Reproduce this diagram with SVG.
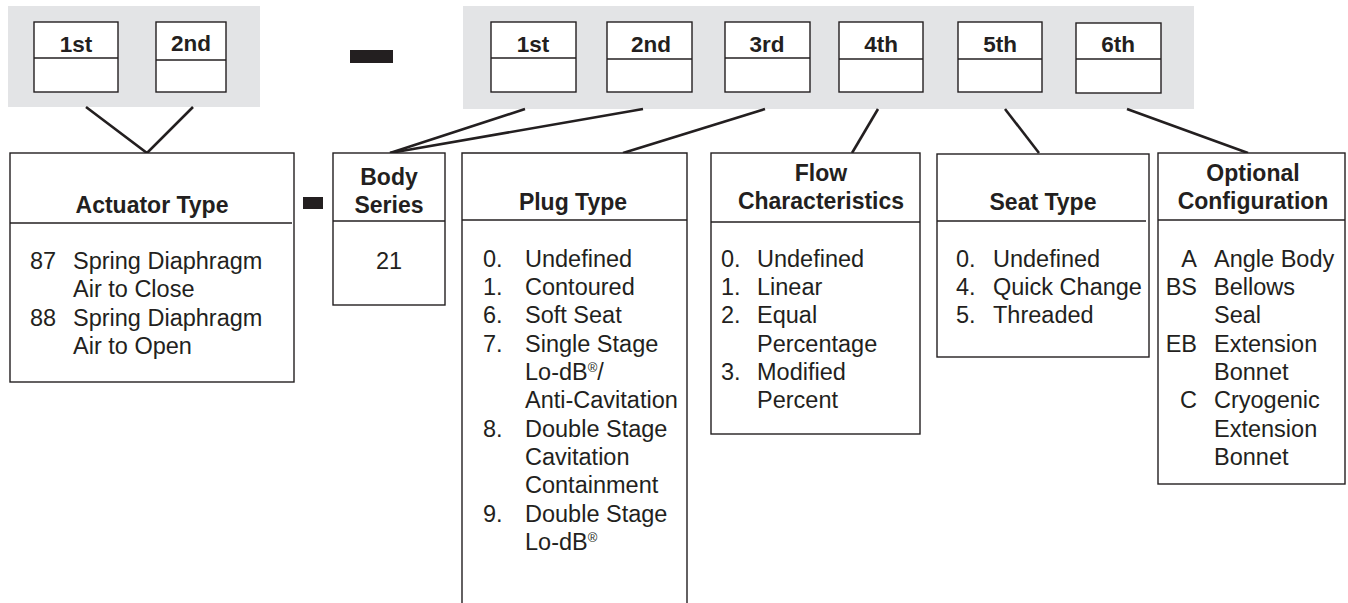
<svg xmlns="http://www.w3.org/2000/svg" width="1348" height="603" viewBox="0 0 1348 603">
  <style>
    .panel { fill: #e3e4e6; stroke: none; }
    .slot { fill: #ffffff; stroke: #231f20; stroke-width: 1.4; }
    .box { fill: #ffffff; stroke: #231f20; stroke-width: 1.4; }
    .rule { stroke: #231f20; stroke-width: 1.4; }
    .link { stroke: #231f20; stroke-width: 2.6; fill: none; stroke-linecap: butt; }
    .dash { fill: #231f20; }
    text { font-family: "Liberation Sans", Arial, sans-serif; fill: #231f20; }
    .slotlbl { font-size: 22.5px; font-weight: bold; text-anchor: middle; }
    .title { font-size: 23px; font-weight: bold; text-anchor: middle; }
    .item { font-size: 23.5px; }
    .code { font-size: 23.5px; text-anchor: end; }
    .reg { font-size: 13px; }
  </style>

  <!-- code panels -->
  <g id="actuator-code">
    <rect class="panel" x="8" y="6" width="252" height="101"/>
    <rect class="slot" x="34" y="22" width="84" height="70"/>
    <line class="rule" x1="34" y1="58" x2="118" y2="58"/>
    <text class="slotlbl" x="76" y="52">1st</text>
    <rect class="slot" x="156" y="22" width="70" height="70"/>
    <line class="rule" x1="156" y1="60" x2="226" y2="60"/>
    <text class="slotlbl" x="191" y="51">2nd</text>
  </g>

  <rect id="code-separator" class="dash" x="350" y="50" width="43" height="13"/>

  <g id="body-code">
    <rect class="panel" x="463" y="6" width="731" height="103"/>
    <rect class="slot" x="491" y="22" width="85" height="70"/>
    <line class="rule" x1="491" y1="58" x2="576" y2="58"/>
    <text class="slotlbl" x="533" y="52">1st</text>
    <rect class="slot" x="607" y="22" width="85" height="70"/>
    <line class="rule" x1="607" y1="59" x2="692" y2="59"/>
    <text class="slotlbl" x="651" y="52">2nd</text>
    <rect class="slot" x="725" y="22" width="85" height="70"/>
    <line class="rule" x1="725" y1="58" x2="810" y2="58"/>
    <text class="slotlbl" x="767" y="52">3rd</text>
    <rect class="slot" x="839" y="22" width="84" height="70"/>
    <line class="rule" x1="839" y1="59" x2="923" y2="59"/>
    <text class="slotlbl" x="881" y="52">4th</text>
    <rect class="slot" x="958" y="22" width="84" height="70"/>
    <line class="rule" x1="958" y1="59" x2="1042" y2="59"/>
    <text class="slotlbl" x="1000" y="52">5th</text>
    <rect class="slot" x="1076" y="23" width="85" height="70"/>
    <line class="rule" x1="1076" y1="59" x2="1161" y2="59"/>
    <text class="slotlbl" x="1118" y="52">6th</text>
  </g>

  <!-- connectors from code positions to their option tables -->
  <g id="connectors">
    <polyline class="link" points="86,107 147,153 193,107"/>
    <line class="link" x1="525" y1="109" x2="390" y2="153"/>
    <line class="link" x1="643" y1="109" x2="390" y2="153"/>
    <line class="link" x1="765" y1="109" x2="623" y2="153"/>
    <line class="link" x1="878" y1="109" x2="852" y2="153"/>
    <line class="link" x1="1005" y1="109" x2="1039" y2="153"/>
    <line class="link" x1="1127" y1="109" x2="1248" y2="153"/>
  </g>

  <g id="actuator-type">
    <rect class="box" x="10" y="153" width="284" height="229"/>
    <line class="rule" x1="10" y1="223" x2="292" y2="223"/>
    <text class="title" x="152" y="213">Actuator Type</text>
    <text class="item" x="30" y="269">87</text>
    <text class="item" x="73" y="269">Spring Diaphragm</text>
    <text class="item" x="73" y="297">Air to Close</text>
    <text class="item" x="30" y="326">88</text>
    <text class="item" x="73" y="326">Spring Diaphragm</text>
    <text class="item" x="73" y="354">Air to Open</text>
  </g>

  <rect id="table-separator" class="dash" x="303" y="197" width="20" height="12"/>

  <g id="body-series">
    <rect class="box" x="333" y="153" width="112" height="152"/>
    <line class="rule" x1="333" y1="221" x2="445" y2="221"/>
    <text class="title" x="389" y="185">Body</text>
    <text class="title" x="389" y="213">Series</text>
    <text class="item" x="389" y="269" text-anchor="middle">21</text>
  </g>

  <g id="plug-type">
    <path class="box" d="M462,606 V153 H687 V606"/>
    <line class="rule" x1="462" y1="220" x2="687" y2="220"/>
    <text class="title" x="573" y="210">Plug Type</text>
    <text class="item" x="483" y="267">0.</text>
    <text class="item" x="525" y="267">Undefined</text>
    <text class="item" x="483" y="295">1.</text>
    <text class="item" x="525" y="295">Contoured</text>
    <text class="item" x="483" y="323">6.</text>
    <text class="item" x="525" y="323">Soft Seat</text>
    <text class="item" x="483" y="352">7.</text>
    <text class="item" x="525" y="352">Single Stage</text>
    <text class="item" x="525" y="380">Lo-dB<tspan class="reg" dy="-8">®</tspan><tspan dy="8">/</tspan></text>
    <text class="item" x="525" y="408">Anti-Cavitation</text>
    <text class="item" x="483" y="437">8.</text>
    <text class="item" x="525" y="437">Double Stage</text>
    <text class="item" x="525" y="465">Cavitation</text>
    <text class="item" x="525" y="493">Containment</text>
    <text class="item" x="483" y="522">9.</text>
    <text class="item" x="525" y="522">Double Stage</text>
    <text class="item" x="525" y="550">Lo-dB<tspan class="reg" dy="-8">®</tspan></text>
  </g>

  <g id="flow-characteristics">
    <rect class="box" x="711" y="153" width="209" height="281"/>
    <line class="rule" x1="711" y1="222" x2="920" y2="222"/>
    <text class="title" x="821" y="181">Flow</text>
    <text class="title" x="821" y="209">Characteristics</text>
    <text class="item" x="721" y="267">0.</text>
    <text class="item" x="757" y="267">Undefined</text>
    <text class="item" x="721" y="295">1.</text>
    <text class="item" x="757" y="295">Linear</text>
    <text class="item" x="721" y="323">2.</text>
    <text class="item" x="757" y="323">Equal</text>
    <text class="item" x="757" y="352">Percentage</text>
    <text class="item" x="721" y="380">3.</text>
    <text class="item" x="757" y="380">Modified</text>
    <text class="item" x="757" y="408">Percent</text>
  </g>

  <g id="seat-type">
    <rect class="box" x="937" y="154" width="212" height="203"/>
    <line class="rule" x1="937" y1="221" x2="1146" y2="221"/>
    <text class="title" x="1043" y="210">Seat Type</text>
    <text class="item" x="956" y="267">0.</text>
    <text class="item" x="993" y="267">Undefined</text>
    <text class="item" x="956" y="295">4.</text>
    <text class="item" x="993" y="295">Quick Change</text>
    <text class="item" x="956" y="323">5.</text>
    <text class="item" x="993" y="323">Threaded</text>
  </g>

  <g id="optional-configuration">
    <rect class="box" x="1158" y="153" width="187" height="331"/>
    <line class="rule" x1="1158" y1="220" x2="1345" y2="220"/>
    <text class="title" x="1253" y="181">Optional</text>
    <text class="title" x="1253" y="209">Configuration</text>
    <text class="code" x="1197" y="267">A</text>
    <text class="item" x="1214" y="267">Angle Body</text>
    <text class="code" x="1197" y="295">BS</text>
    <text class="item" x="1214" y="295">Bellows</text>
    <text class="item" x="1214" y="323">Seal</text>
    <text class="code" x="1197" y="352">EB</text>
    <text class="item" x="1214" y="352">Extension</text>
    <text class="item" x="1214" y="380">Bonnet</text>
    <text class="code" x="1197" y="408">C</text>
    <text class="item" x="1214" y="408">Cryogenic</text>
    <text class="item" x="1214" y="437">Extension</text>
    <text class="item" x="1214" y="465">Bonnet</text>
  </g>
</svg>
